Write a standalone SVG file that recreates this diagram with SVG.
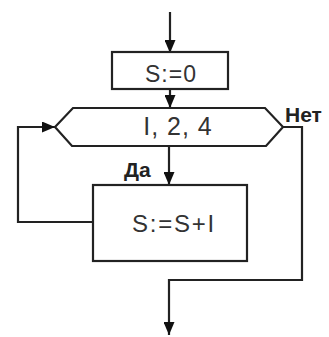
<svg xmlns="http://www.w3.org/2000/svg" width="329" height="337" viewBox="0 0 329 337">
<style>
.shape{fill:#fff;stroke:#222;stroke-width:2.2}
.conn{fill:none;stroke:#222;stroke-width:2.2}
.t{font-family:"Liberation Sans",Arial,sans-serif;fill:#333;text-anchor:middle}
.lbl{font-family:"Liberation Sans",Arial,sans-serif;fill:#222;font-weight:bold;font-size:21px}
</style>
<defs>
<marker id="arr" markerUnits="userSpaceOnUse" markerWidth="13" markerHeight="11" refX="13" refY="5.5" orient="auto">
<path d="M0,0 L13,5.5 L0,11 z" fill="#111"/>
</marker>
</defs>
<rect width="329" height="337" fill="#fff"/>
<g id="connectors">
<path class="conn" d="M170,12 V53" marker-end="url(#arr)"/>
<path class="conn" d="M170,89 V108" marker-end="url(#arr)"/>
<path class="conn" d="M169,147 V185" marker-end="url(#arr)"/>
<path class="conn" d="M93,222 H18 V127 H55" marker-end="url(#arr)"/>
<path class="conn" d="M282,127 H302 V280 H169 V335" marker-end="url(#arr)"/>
</g>
<g id="init">
<rect class="shape" x="112" y="52" width="116" height="37"/>
<text class="t" x="171" y="82" font-size="23" letter-spacing="1">S:=0</text>
</g>
<g id="loop">
<polygon class="shape" points="55,127 73,108 265,108 283,127 266,146 72,146"/>
<text class="t" x="178" y="135" font-size="25" letter-spacing="1">I, 2, 4</text>
</g>
<g id="body">
<rect class="shape" x="93" y="185" width="154" height="76"/>
<text class="t" x="174" y="232" font-size="24" letter-spacing="1.8">S:=S+I</text>
</g>
<g id="labels">
<text class="lbl" x="285" y="122">Нет</text>
<text class="lbl" x="124" y="177">Да</text>
</g>
</svg>
